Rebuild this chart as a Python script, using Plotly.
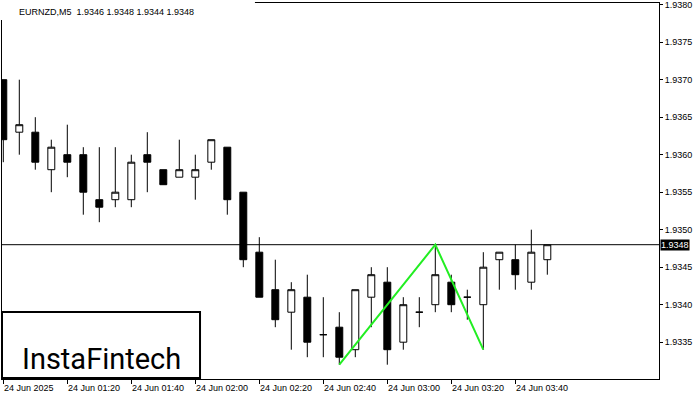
import plotly.graph_objects as go

symbol = "EURNZD,M5"
day = "2025-06-24"
times = ["01:00", "01:05", "01:10", "01:15", "01:20", "01:25", "01:30", "01:35",
         "01:40", "01:45", "01:50", "01:55", "02:00", "02:05", "02:10", "02:15",
         "02:20", "02:25", "02:30", "02:35", "02:40", "02:45", "02:50", "02:55",
         "03:00", "03:05", "03:10", "03:15", "03:20", "03:25", "03:30", "03:35",
         "03:40", "03:45", "03:50"]
opens = [1.9370, 1.9363, 1.9363, 1.9358, 1.9360, 1.9360, 1.9354, 1.9354,
         1.9354, 1.9360, 1.9358, 1.9357, 1.9357, 1.9359, 1.9361, 1.9355,
         1.9347, 1.9342, 1.9339, 1.9341, 1.9336, 1.9337, 1.9334, 1.9341,
         1.9343, 1.9335, 1.9339, 1.9340, 1.9343, 1.9341, 1.9340, 1.9346,
         1.9346, 1.9343, 1.9346]
highs = [1.9370, 1.9370, 1.9365, 1.9362, 1.9364, 1.9361, 1.9361, 1.9361,
         1.9360, 1.9363, 1.9358, 1.9362, 1.9360, 1.9362, 1.9361, 1.9355,
         1.9349, 1.9346, 1.9343, 1.9344, 1.9341, 1.9339, 1.9342, 1.9345,
         1.9345, 1.9341, 1.9341, 1.9348, 1.9344, 1.9342, 1.9347, 1.9347,
         1.9348, 1.9350, 1.9348]
lows = [1.9359, 1.9360, 1.9358, 1.9355, 1.9357, 1.9352, 1.9351, 1.9353,
        1.9353, 1.9355, 1.9356, 1.9357, 1.9354, 1.9358, 1.9352, 1.9345,
        1.9341, 1.9337, 1.9334, 1.9333, 1.9333, 1.9332, 1.9333, 1.9337,
        1.9332, 1.9334, 1.9337, 1.9339, 1.9339, 1.9338, 1.9334, 1.9342,
        1.9342, 1.9342, 1.9344]
closes = [1.9362, 1.9364, 1.9359, 1.9361, 1.9359, 1.9355, 1.9353, 1.9355,
          1.9359, 1.9359, 1.9356, 1.9358, 1.9358, 1.9362, 1.9354, 1.9346,
          1.9341, 1.9338, 1.9342, 1.9335, 1.9336, 1.9333, 1.9342, 1.9344,
          1.9334, 1.9340, 1.9339, 1.9344, 1.9340, 1.9341, 1.9345, 1.9347,
          1.9344, 1.9347, 1.9348]

# double-bottom pattern points: (candle index, "low"/"high")
pattern = [(21, "low"), (27, "high"), (30, "low")]

x_tick_times = ["01:00", "01:20", "01:40", "02:00", "02:20", "02:40", "03:00", "03:20", "03:40"]
x_tick_labels = ["24 Jun 2025", "24 Jun 01:20", "24 Jun 01:40", "24 Jun 02:00", "24 Jun 02:20",
                 "24 Jun 02:40", "24 Jun 03:00", "24 Jun 03:20", "24 Jun 03:40"]
y_ticks = [1.9335, 1.9340, 1.9345, 1.9350, 1.9355, 1.9360, 1.9365, 1.9370, 1.9375, 1.9380]

xs = [f"{day} {t}" for t in times]
FONT = "Liberation Sans, Arial, sans-serif"

fig = go.Figure()
fig.add_trace(go.Candlestick(
    x=xs, open=opens, high=highs, low=lows, close=closes,
    increasing=dict(line=dict(color="black", width=1), fillcolor="white"),
    decreasing=dict(line=dict(color="black", width=1), fillcolor="black"),
    whiskerwidth=0, hoverinfo="skip", showlegend=False,
))

px_ = [xs[i] for i, _ in pattern]
py_ = [lows[i] if k == "low" else highs[i] for i, k in pattern]
fig.add_trace(go.Scatter(x=px_, y=py_, mode="lines",
                         line=dict(color="#22ee22", width=2),
                         hoverinfo="skip", showlegend=False))

last_close = closes[-1]
fig.add_shape(type="line", xref="paper", x0=0, x1=1, yref="y", y0=last_close, y1=last_close,
              line=dict(color="black", width=1), layer="below")

# white area behind the title (hides frame there)
fig.add_shape(type="rect", xref="paper", yref="paper", x0=-0.01, x1=0.385, y0=0.955, y1=1.02,
              fillcolor="white", line=dict(width=0), layer="above")

annotations = []
title_text = f"{symbol}  {opens[-1]:.4f} {highs[-1]:.4f} {lows[-1]:.4f} {closes[-1]:.4f}"
annotations.append(dict(text=title_text, xref="paper", yref="paper", x=0.0228, y=0.976,
                        xanchor="left", yanchor="middle", showarrow=False,
                        font=dict(family=FONT, size=9, color="black")))
for t, lab in zip(x_tick_times, x_tick_labels):
    annotations.append(dict(text=lab, xref="x", yref="paper", x=f"{day} {t}", y=-0.024,
                            xanchor="left", yanchor="middle", showarrow=False, xshift=-1,
                            font=dict(family=FONT, size=9, color="black")))
annotations.append(dict(text=f"{last_close:.4f}", xref="paper", yref="y", x=1, y=last_close,
                        xanchor="left", yanchor="middle", showarrow=False, xshift=1,
                        bgcolor="black", borderpad=0,
                        font=dict(family=FONT, size=9, color="white")))
annotations.append(dict(text="InstaFintech", xref="paper", yref="paper", x=0.1507, y=0.053,
                        xanchor="center", yanchor="middle", showarrow=False,
                        font=dict(family="Roboto, sans-serif", size=29, color="black", weight=400)))

# logo box
fig.add_shape(type="rect", xref="paper", yref="paper", x0=0.0, x1=0.3014, y0=0.0027, y1=0.178,
              fillcolor="white", line=dict(color="black", width=2), layer="above")

fig.update_layout(
    width=700, height=400, autosize=False,
    margin=dict(l=2, r=41, t=3, b=21, pad=0, autoexpand=False),
    paper_bgcolor="white", plot_bgcolor="white",
    boxgap=0.38,
    annotations=annotations,
    xaxis=dict(type="date", range=["2025-06-24 00:59:35.6", "2025-06-24 04:24:54"],
               rangeslider=dict(visible=False),
               tickvals=[f"{day} {t}" for t in x_tick_times], showticklabels=False,
               ticks="outside", ticklen=4, tickcolor="black", tickwidth=1,
               showgrid=False, zeroline=False,
               showline=True, linecolor="black", linewidth=1, mirror=True),
    yaxis=dict(side="right", range=[1.9330093, 1.9380227],
               tickvals=y_ticks, tickformat=".4f", ticklabeloverflow="allow",
               ticks="outside", ticklen=3, tickcolor="black", tickwidth=1,
               tickfont=dict(family=FONT, size=9, color="black"),
               showgrid=False, zeroline=False,
               showline=True, linecolor="black", linewidth=1, mirror=True),
    hovermode=False,
)

fig.write_html("out.html", config={"displayModeBar": False},
               post_script="document.body.style.margin='0';document.body.style.padding='0';")
